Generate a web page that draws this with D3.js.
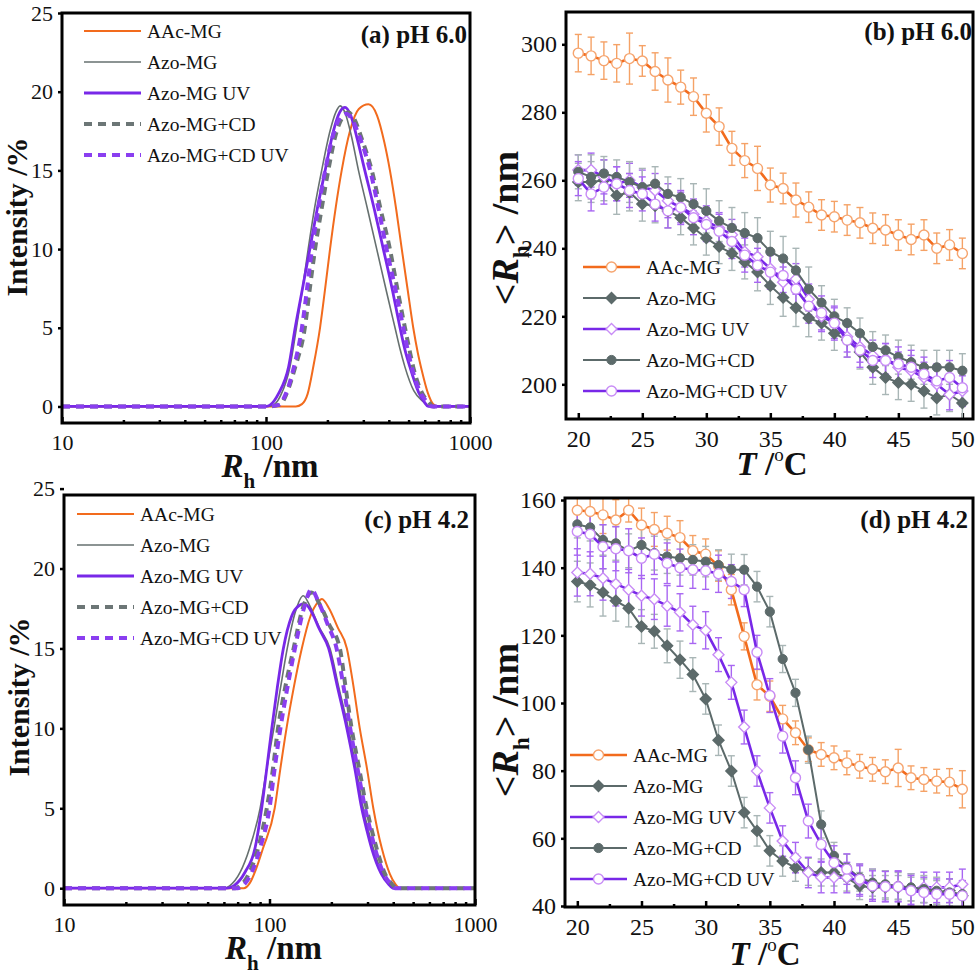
<!DOCTYPE html>
<html>
<head>
<meta charset="utf-8">
<script src="https://cdn.jsdelivr.net/npm/d3@7"></script>
<style>
  body { margin: 0; background: #fff; }
  svg { display: block; }
  text { font-family: 'Liberation Serif', 'Times New Roman', serif; fill: #111; }
</style>
</head>
<body>
<svg id="chart" width="980" height="975"></svg>
<script>
const names = ['AAc-MG', 'Azo-MG', 'Azo-MG UV', 'Azo-MG+CD', 'Azo-MG+CD UV']

// ---- size distributions [Rh nm, intensity %] ----
const aAAc = [[10,0],[100,0],[140,0],[150,0.15],[160,0.8],[171,2.6],[184,5],[195,7.5],[206,10],[220,12.7],[235,15],[258,17.5],[285,18.9],[318,19.2],[350,18.5],[380,16.8],[405,15],[435,12.5],[463,10],[495,7.4],[527,5],[555,3.4],[580,2.3],[620,0.9],[661,0.15],[700,0],[1000,0]]
const aAzo = [[10,0],[100,0],[109,0.1],[118,0.7],[131,2.5],[141,5],[151,7.5],[161,10],[173,12.6],[187.5,15],[206,17.5],[220,18.7],[231,19.1],[245,18.6],[262,17.2],[284,15],[315,12.5],[349,10],[388,7.4],[429,5],[455,3.6],[480,2.5],[530,1.0],[590,0.3],[637,0],[1000,0]]
const aAzoUV = [[10,0],[100,0],[105,0.1],[115,0.8],[129,2.5],[139,5],[151,7.5],[164,10],[178,12.5],[195,15],[214,17.5],[230,18.7],[244,19.0],[260,18.5],[280,17],[305,15],[340,12.5],[376,10],[415,7.5],[454,5],[480,3.6],[508,2.5],[560,0.9],[600,0.25],[624,0],[1000,0]]
const aAzoCD = [[10,0],[100,0],[117,0.1],[126,0.8],[139,2.5],[155,5],[164,7.5],[174,10],[187,12.5],[202,15],[220,17.3],[238,18.4],[253,18.7],[270,18.3],[295,17],[330,15],[365,12.5],[405,10],[440,7.5],[480,5],[505,3.6],[527,2.5],[580,0.9],[630,0.25],[661,0],[1000,0]]
const aAzoCDUV = [[10,0],[100,0],[115,0.1],[125,0.8],[137,2.5],[150,5],[159,7.5],[168,10],[180,12.5],[195,15],[214,17.3],[232,18.4],[248,18.6],[265,18.2],[290,17],[324,15],[357,12.5],[390,10],[430,7.5],[471,5],[495,3.6],[518,2.5],[570,0.9],[620,0.25],[649,0],[1000,0]]

const cAAc = [[10,0],[75,0],[80,0.3],[86,1.2],[93,2.5],[106,5],[113,7.5],[121,10],[131,12.5],[143.6,15],[158,17],[172,17.9],[180,18.1],[195,17.5],[215,16.3],[238,15],[255,12.8],[275,10],[298,7.5],[320,5],[336,3.6],[352,2.5],[385,0.9],[410,0.25],[431,0],[1000,0]]
const cAzo = [[10,0],[60,0],[64,0.15],[72,1.0],[80,2.5],[90,5],[97,7.5],[105,10],[113,12.5],[122,15],[133,17.2],[146,18.3],[158,17.6],[175,16.3],[197,15],[218,12.5],[242,10],[264,7.5],[286,5],[303,3.6],[320,2.5],[355,0.9],[385,0.25],[408,0],[1000,0]]
const cAzoUV = [[10,0],[62,0],[67,0.15],[76,1.0],[85,2.5],[91.6,5],[97,7.5],[102.6,10],[109,12.5],[116.8,15],[128,17],[140,17.7],[148,17.8],[160,17.3],[175,16.2],[194,15],[215,12.5],[238,10],[260,7.5],[281,5],[298,3.6],[314,2.5],[350,0.9],[380,0.25],[401,0],[1000,0]]
const cAzoCD = [[10,0],[68,0],[72,0.15],[80,1.0],[88,2.5],[97,5],[104,7.5],[110,10],[119,12.5],[131,15],[145,17.5],[160,18.5],[175,17.8],[195,16.5],[220,15],[235,12.5],[251,10],[273,7.5],[297,5],[315,3.6],[332,2.5],[365,0.9],[395,0.25],[416,0],[1000,0]]
const cAzoCDUV = [[10,0],[70,0],[74,0.15],[82,1.0],[90,2.5],[100,5],[106,7.5],[113,10],[122,12.5],[133,15],[147,17.5],[160,18.7],[172,18.0],[192,16.5],[212,15],[230,12.5],[247,10],[268,7.5],[292,5],[310,3.6],[326,2.5],[360,0.9],[390,0.25],[408,0],[1000,0]]

// ---- temperature scans ----
const temps = [20,21,22,23,24,25,26,27,28,29,30,31,32,33,34,35,36,37,38,39,40,41,42,43,44,45,46,47,48,49,50]

const bAAc = [297.4,296.6,295.2,294.4,295.8,295.1,292.0,289.5,287.4,284.6,279.7,275.8,269.4,265.8,263.5,258.6,257.6,254.2,252.1,249.8,249.3,248.3,247.5,245.9,245.4,243.9,242.6,243.9,240.0,241.0,238.5]
const bAAcErr = [5.5,5.5,5.5,5.5,7.5,4.5,5.5,6.5,5,5.5,5.5,5.5,5,5,6.5,5,4.5,5,4.5,4.5,4.5,4.5,4.5,4.5,4.5,4.5,4.5,4.5,4.5,4.5,4.5]
const bAzo = [259.5,259.5,260,255.5,256.5,253,252.5,251,249,246,243,240.5,238.5,236,233,229,225.5,222.5,219.5,218,215,213,209.5,205,202,200.5,200,198,196,197,194.5]
const bAzoErr = [5.5,6,6,5.5,5.5,5,5,5,5,5,5,5,5,5,5.5,5.5,5.5,5.5,5.5,5,5,5,5,5,5,5,5,5,5,5,5]
const bAzoUV = [263,263,261,259,260,258,257,254,252,250,248,246,244,239,237.5,234,230,231,225,220,218,214,211,208.5,207.5,205,204,202,200,197,198]
const bAzoUVErr = [4.5,5,5,5,5,5,5,5,4.5,4.5,4.5,4.5,4.5,4.5,4.5,4.5,4.5,4.5,4.5,4.5,4.5,4.5,4.5,4.5,4.5,4.5,4.5,4.5,4.5,4.5,4.5]
const bAzoCD = [262.5,261,262,261,259.5,258,259,256,255,253,251,248,246,244.5,243,239,237,233.5,228,224,220,218,215,211,210,208,206.5,205,205,205,204]
const bAzoCDErr = [5,6.5,5,5,6,5.5,5,5,5.5,6,6.5,6,6,6,6,6,6.5,6.5,6.5,5,5,4.5,4.5,4.5,4.5,5,5,5,5,5,5]
const bAzoCDUV = [260.5,256,258,259,257,256,253,251,252,249,247,245,242,238,235,233,232,228,223,221,218,213,210,207,207,206,205,203,201,202,199]
const bAzoCDUVErr = [5,5,5,5,5,5,5,5,5,5,5,5,5,5,5,5,5,5,5,5,5,5,5,5,5,5,5,5,5,5,5]

const dAAc = [157,156.6,155.6,154.1,157,152.6,151.3,150.2,148.9,145,144,140.5,133.5,119.7,105.4,102,95.3,91.2,86.2,84.8,83.8,82.3,81.3,80.4,79.7,80.8,77.9,77.4,76.9,76.6,74.5]
const dAAcErr = [5,5,5.5,6,3.5,5,5,5,5,4.5,4.5,4.5,4.5,4,4.5,4.5,4,3.5,3.5,3.5,3.5,3.5,3.5,3.5,3.5,5.5,3.5,3.5,3.5,4,5.5]
const dAzo = [135.9,134.9,132.7,130.2,128,122.6,121.2,116.9,112.8,108.4,101.2,89,79.9,67.6,62.2,56.3,53.3,51.3,50.1,49.9,49.9,48.4,45.9,45.5,45.5,45.5,45,44.5,44,44.5,43]
const dAzoErr = [6,6.5,7,6,5.5,5,5,5,5.5,5,4.5,4.5,4.5,4.5,4.5,4.5,4.5,4,4,4,4,4,4,3.5,3.5,3.5,3.5,3.5,3.5,3.5,3.5]
const dAzoUV = [138.6,138.2,136.9,135.2,133.5,131.7,130.7,128.7,126.8,123.1,121.5,114.3,106.1,92.9,79.9,69,59.2,54.3,49.9,48.4,48.4,48.4,47.4,46.4,45.9,45.9,45,45.5,45.5,45.5,46.4]
const dAzoUVErr = [7,6.5,6.5,6.5,6,6,6,6,5.5,5.5,5.5,5,5,5,4.5,4.5,4.5,4.5,4.5,4.5,4.5,4.5,4.5,4.5,4.5,4.5,4.5,4.5,4.5,4.5,4.5]
const dAzoCD = [152.8,151.9,148.2,147.2,145,146.7,144.3,143.3,142.8,142.3,141.8,140.8,139.5,139.4,134.4,127,113,103,86.2,64.1,54.8,51.3,48.4,46.9,46.4,45.9,45.5,45,44.5,44,43.5]
const dAzoCDErr = [4,4,4.5,5,5,5,5,5,5,4.5,4.5,4.5,4.5,4.5,4.5,4.5,4,4,4,4,4,4,4,4,4,4,4,4,4,4,4]
const dAzoCDUV = [150.7,149.9,146.2,145.6,145,142.8,144,141.3,140,139.4,139.1,138.2,135.9,133.5,115,102.2,90.2,77.9,65.1,58.2,52.8,50.9,47.9,45.9,45.7,45.7,44.5,44,43.5,43.5,43]
const dAzoCDUVErr = [7,6.5,6.5,6.5,6.5,6,6,6,5.5,5.5,5.5,5.5,5,5,5,5,5,5,5,5,5,4.5,4.5,4.5,4.5,4.5,4.5,4.5,4.5,4.5,4.5]

const distTicks = [10, 100, 1000]
const distMinor = [20,30,40,50,60,70,80,90,200,300,400,500,600,700,800,900]
const intTicks = [0, 5, 10, 15, 20, 25]
const tTicks = [20, 25, 30, 35, 40, 45, 50]
const tMinor = [22.5, 27.5, 32.5, 37.5, 42.5, 47.5]
const bTicks = [200, 220, 240, 260, 280, 300]
const dTicks = [40, 60, 80, 100, 120, 140, 160]

// styles
const ORANGE = '#f26b1d', GRAY = '#5c6a6a', PURPLE = '#7828e8'
const distStyle = [
  { color: ORANGE, width: 2, dash: null },
  { color: '#66706f', width: 1.6, dash: null },
  { color: PURPLE, width: 2.8, dash: null },
  { color: '#6c7676', width: 4, dash: '8,6' },
  { color: '#8a3ef0', width: 4, dash: '8,6' }
]
const tempStyle = [
  { color: ORANGE, width: 2.6, err: '#f5a266', marker: 'circle', fill: '#fff', stroke: '#f6a46e' },
  { color: GRAY, width: 2, err: '#a9b6b6', marker: 'diamond', fill: GRAY, stroke: GRAY },
  { color: PURPLE, width: 2.6, err: '#a866f2', marker: 'diamond', fill: '#fff', stroke: '#c88cf6' },
  { color: GRAY, width: 2, err: '#a9b6b6', marker: 'dot', fill: GRAY, stroke: GRAY },
  { color: PURPLE, width: 2.6, err: '#a866f2', marker: 'circle', fill: '#fff', stroke: '#c88cf6' }
]

const svg = d3.select('#chart')
let clipId = 0

function styleAxis (g, size) {
  g.select('.domain').remove()
  g.selectAll('line').attr('stroke', '#000').attr('stroke-width', 2.5)
  g.selectAll('text').attr('font-size', size).attr('fill', '#111')
    .style('font-family', "'Liberation Serif','Times New Roman',serif")
}

function panelBase (box, x, y, xt, xm, yt, tickFont) {
  const g = svg.append('g')
  const yAx = g.append('g').attr('transform', `translate(${box.x0},0)`)
    .call(d3.axisLeft(y).tickValues(yt).tickSize(4).tickPadding(5).tickSizeOuter(0))
  styleAxis(yAx, tickFont)
  const xAx = g.append('g').attr('transform', `translate(0,${box.y1})`)
    .call(d3.axisBottom(x).tickValues(xt).tickFormat(d3.format('d')).tickSize(-6).tickPadding(11).tickSizeOuter(0))
  styleAxis(xAx, tickFont)
  const xMin = g.append('g').attr('transform', `translate(0,${box.y1})`)
    .call(d3.axisBottom(x).tickValues(xm).tickFormat('').tickSize(-3).tickSizeOuter(0))
  styleAxis(xMin, tickFont)

  const id = 'clip' + (clipId++)
  g.append('clipPath').attr('id', id).append('rect')
    .attr('x', box.x0).attr('y', box.y0).attr('width', box.x1 - box.x0).attr('height', box.y1 - box.y0)
  const plot = g.append('g').attr('clip-path', `url(#${id})`)
  return { g, plot }
}

function drawFrame (g, box) {
  g.append('rect').attr('x', box.x0).attr('y', box.y0)
    .attr('width', box.x1 - box.x0).attr('height', box.y1 - box.y0)
    .attr('fill', 'none').attr('stroke', '#000').attr('stroke-width', 3)
}

function distPanel (cfg) {
  const box = cfg.box
  const x = d3.scaleLog().domain([10, 1000]).range([box.x0, box.x1])
  const y = d3.scaleLinear().domain(cfg.yDomain).range([box.y1, box.y0])
  const { g, plot } = panelBase(box, x, y, distTicks, distMinor, intTicks, 22)
  const line = d3.line().x(d => x(d[0])).y(d => y(d[1])).curve(d3.curveMonotoneX)

  cfg.series.forEach((s, i) => {
    const st = distStyle[i]
    plot.append('path').datum(s).attr('d', line).attr('fill', 'none')
      .attr('stroke', st.color).attr('stroke-width', st.width)
      .attr('stroke-dasharray', st.dash)
  })
  drawFrame(g, box)

  // legend
  const lg = g.append('g')
  names.forEach((n, i) => {
    const st = distStyle[i]
    const yy = cfg.legend.y + i * 31
    lg.append('line').attr('x1', cfg.legend.x).attr('x2', cfg.legend.x + 57)
      .attr('y1', yy).attr('y2', yy).attr('stroke', st.color)
      .attr('stroke-width', st.width).attr('stroke-dasharray', st.dash)
    lg.append('text').attr('x', cfg.legend.x + 63).attr('y', yy + 7)
      .attr('font-size', 19.5).text(n)
  })

  g.append('text').attr('x', cfg.label.x).attr('y', cfg.label.y)
    .attr('text-anchor', 'end').attr('font-size', 25).attr('font-weight', 'bold').text(cfg.label.text)

  // axis titles
  const xt = g.append('text').attr('x', (box.x0 + box.x1) / 2 + 4).attr('y', box.y1 + 54)
    .attr('text-anchor', 'middle').attr('font-size', 33).attr('font-weight', 'bold')
  xt.append('tspan').attr('font-style', 'italic').text('R')
  xt.append('tspan').attr('font-size', 21).attr('dy', 11).text('h')
  xt.append('tspan').attr('dy', -11).text(' /nm')

  g.append('text').attr('transform', `translate(${cfg.yTitle.x},${cfg.yTitle.y}) rotate(-90)`)
    .attr('text-anchor', 'middle').attr('font-size', 30).attr('font-weight', 'bold')
    .text('Intensity /%')
}

function marker (sel, type, st) {
  if (type === 'diamond') {
    sel.append('path').attr('d', 'M0,-5.5L5.5,0L0,5.5L-5.5,0Z')
      .attr('fill', st.fill).attr('stroke', st.stroke).attr('stroke-width', 1.4)
  } else if (type === 'dot') {
    sel.append('circle').attr('r', 4.6).attr('fill', st.fill).attr('stroke', st.stroke).attr('stroke-width', 1)
  } else {
    sel.append('circle').attr('r', 5).attr('fill', st.fill).attr('stroke', st.stroke).attr('stroke-width', 1.4)
  }
}

function tempPanel (cfg) {
  const box = cfg.box
  const x = d3.scaleLinear().domain([19.04, 50.83]).range([box.x0, box.x1])
  const y = d3.scaleLinear().domain(cfg.yDomain).range([box.y1, box.y0])
  const { g, plot } = panelBase(box, x, y, tTicks, tMinor, cfg.yTicks, 24)
  const line = d3.line().x(d => x(d.t)).y(d => y(d.v))

  const data = cfg.series.map(s => temps.map((t, j) => ({ t, v: s[0][j], e: s[1][j] })))

  // error bars first
  data.forEach((pts, i) => {
    const st = tempStyle[i]
    const eg = plot.append('g').attr('stroke', st.err).attr('stroke-width', 1.4)
    eg.selectAll('line.v').data(pts).join('line').attr('class', 'v')
      .attr('x1', d => x(d.t)).attr('x2', d => x(d.t))
      .attr('y1', d => y(d.v - d.e)).attr('y2', d => y(d.v + d.e))
    eg.selectAll('line.t').data(pts).join('line').attr('class', 't')
      .attr('x1', d => x(d.t) - 3.5).attr('x2', d => x(d.t) + 3.5)
      .attr('y1', d => y(d.v + d.e)).attr('y2', d => y(d.v + d.e))
    eg.selectAll('line.b').data(pts).join('line').attr('class', 'b')
      .attr('x1', d => x(d.t) - 3.5).attr('x2', d => x(d.t) + 3.5)
      .attr('y1', d => y(d.v - d.e)).attr('y2', d => y(d.v - d.e))
  })

  data.forEach((pts, i) => {
    const st = tempStyle[i]
    plot.append('path').datum(pts).attr('d', line).attr('fill', 'none')
      .attr('stroke', st.color).attr('stroke-width', st.width)
    plot.append('g').selectAll('g').data(pts).join('g')
      .attr('transform', d => `translate(${x(d.t)},${y(d.v)})`)
      .each(function () { marker(d3.select(this), st.marker, st) })
  })
  drawFrame(g, box)

  const lg = g.append('g')
  names.forEach((n, i) => {
    const st = tempStyle[i]
    const yy = cfg.legend.y + i * 31
    lg.append('line').attr('x1', cfg.legend.x).attr('x2', cfg.legend.x + 57)
      .attr('y1', yy).attr('y2', yy).attr('stroke', st.color).attr('stroke-width', st.width)
    marker(lg.append('g').attr('transform', `translate(${cfg.legend.x + 28.5},${yy})`), st.marker, st)
    lg.append('text').attr('x', cfg.legend.x + 63).attr('y', yy + 7)
      .attr('font-size', 19.5).text(n)
  })

  g.append('text').attr('x', cfg.label.x).attr('y', cfg.label.y)
    .attr('text-anchor', 'end').attr('font-size', 25).attr('font-weight', 'bold').text(cfg.label.text)

  const xt = g.append('text').attr('x', cfg.xTitle.x).attr('y', cfg.xTitle.y)
    .attr('text-anchor', 'middle').attr('font-size', 33).attr('font-weight', 'bold')
  xt.append('tspan').attr('font-style', 'italic').text('T')
  xt.append('tspan').text(' /')
  xt.append('tspan').attr('font-size', 19).attr('font-weight', 'normal').attr('dy', -14).text('o')
  xt.append('tspan').attr('dy', 14).text('C')

  const yt = g.append('text').attr('transform', `translate(${cfg.yTitle.x},${cfg.yTitle.y}) rotate(-90)`)
    .attr('text-anchor', 'middle').attr('font-size', 38).attr('font-weight', 'bold')
  yt.append('tspan').text('<')
  yt.append('tspan').attr('font-style', 'italic').text('R')
  yt.append('tspan').attr('font-size', 23).attr('dy', 11).text('h')
  yt.append('tspan').attr('dy', -11).text('> /nm')
}

distPanel({
  box: { x0: 62, x1: 470, y0: 13, y1: 423 },
  yDomain: [-1.05, 25],
  series: [aAAc, aAzo, aAzoUV, aAzoCD, aAzoCDUV],
  legend: { x: 84, y: 31 },
  label: { x: 467, y: 43, text: '(a) pH 6.0' },
  yTitle: { x: 27, y: 217 }
})

distPanel({
  box: { x0: 64, x1: 475, y0: 495, y1: 905 },
  yDomain: [-1.05, 24.6],
  series: [cAAc, cAzo, cAzoUV, cAzoCD, cAzoCDUV],
  legend: { x: 77, y: 514 },
  label: { x: 469, y: 528, text: '(c) pH 4.2' },
  yTitle: { x: 29, y: 697 }
})

tempPanel({
  box: { x0: 566, x1: 973, y0: 12, y1: 419 },
  yDomain: [189.8, 309.5],
  yTicks: bTicks,
  series: [[bAAc, bAAcErr], [bAzo, bAzoErr], [bAzoUV, bAzoUVErr], [bAzoCD, bAzoCDErr], [bAzoCDUV, bAzoCDUVErr]],
  legend: { x: 583, y: 267 },
  label: { x: 972, y: 40, text: '(b) pH 6.0' },
  xTitle: { x: 772, y: 475 },
  yTitle: { x: 518, y: 228 }
})

tempPanel({
  box: { x0: 565, x1: 973, y0: 498, y1: 907 },
  yDomain: [39.7, 160.6],
  yTicks: dTicks,
  series: [[dAAc, dAAcErr], [dAzo, dAzoErr], [dAzoUV, dAzoUVErr], [dAzoCD, dAzoCDErr], [dAzoCDUV, dAzoCDUVErr]],
  legend: { x: 570, y: 755 },
  label: { x: 968, y: 528, text: '(d) pH 4.2' },
  xTitle: { x: 765, y: 965 },
  yTitle: { x: 518, y: 720 }
})
</script>
</body>
</html>
